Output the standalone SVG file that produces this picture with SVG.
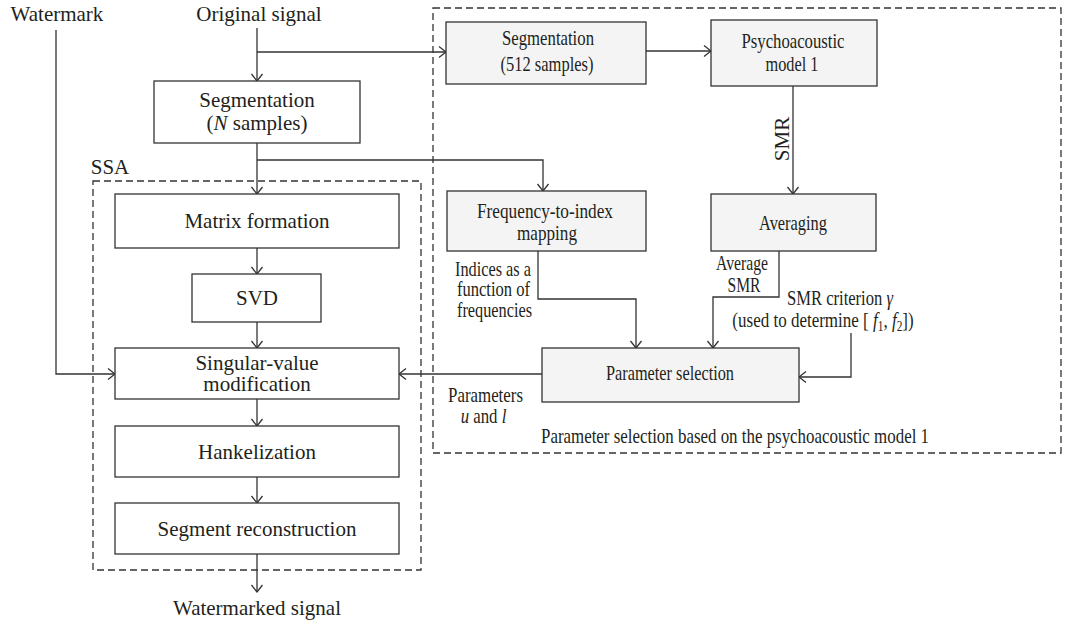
<svg xmlns="http://www.w3.org/2000/svg" width="1075" height="627" viewBox="0 0 1075 627" font-size="21">
<style>
text{fill:#231f20;text-anchor:middle}
.box{fill:#fff;stroke:#333;stroke-width:1.3}
.gbox{fill:#f4f4f4;stroke:#333;stroke-width:1.3}
.frame{fill:none;stroke:#333;stroke-width:1.3;stroke-dasharray:7 4}
.c{fill:none;stroke:#333;stroke-width:1.3}
.c.a{marker-end:url(#arr)}
</style>
<defs>
<marker id="arr" viewBox="-9 -7 10 14" markerWidth="10" markerHeight="14" refX="0" refY="0" orient="auto" markerUnits="userSpaceOnUse">
<path d="M-7,-5.5 L0,0 L-7,5.5" fill="none" stroke="#333" stroke-width="1.3"/>
</marker>
</defs>
<rect width="1075" height="627" fill="#fff"/>

<g id="psy-frame">
<rect x="433" y="8" width="628" height="445" fill="#f4f4f4" class="frame"/>
<text font-family="Liberation Serif" x="735" y="443" textLength="388" lengthAdjust="spacingAndGlyphs">Parameter selection based on the psychoacoustic model 1</text>
</g>
<g id="ssa-frame">
<rect x="93" y="181" width="328" height="389" class="frame"/>
<text font-family="Liberation Serif" x="110" y="174">SSA</text>
</g>

<g id="connectors">
<path class="c a" d="M257,28 V81"/>
<path class="c a" d="M257,52 H446"/>
<path class="c a" d="M646,51 H711"/>
<path class="c a" d="M257,143 V194"/>
<path class="c a" d="M257,160 H543 V191"/>
<path class="c a" d="M257,248 V274"/>
<path class="c a" d="M257,322 V348"/>
<path class="c a" d="M257,399 V426"/>
<path class="c a" d="M257,477 V503"/>
<path class="c a" d="M257,554 V592"/>
<path class="c a" d="M56,30 V374 H115"/>
<path class="c a" d="M793,86 V194"/>
<path class="c a" d="M538,251 V299 H636 V348"/>
<path class="c a" d="M779,251 V297 H713 V348"/>
<path class="c a" d="M851,333 V377 H799"/>
<path class="c a" d="M542,374 H399"/>
</g>

<g id="labels">
<text font-family="Liberation Serif" x="57" y="21">Watermark</text>
<text font-family="Liberation Serif" x="259" y="21">Original signal</text>
<text font-family="Liberation Serif" x="257" y="615">Watermarked signal</text>
<text font-family="Liberation Serif" x="782" y="139" transform="rotate(-90 782 139)" dy="7">SMR</text>
<text font-family="Liberation Serif" x="493" y="276" textLength="76" lengthAdjust="spacingAndGlyphs">Indices as a</text>
<text font-family="Liberation Serif" x="493.5" y="296" textLength="73" lengthAdjust="spacingAndGlyphs">function of</text>
<text font-family="Liberation Serif" x="494.5" y="317" textLength="75" lengthAdjust="spacingAndGlyphs">frequencies</text>
<text font-family="Liberation Serif" x="742" y="270" textLength="52" lengthAdjust="spacingAndGlyphs">Average</text>
<text font-family="Liberation Serif" x="744" y="292" textLength="33" lengthAdjust="spacingAndGlyphs">SMR</text>
<text font-family="Liberation Serif" x="840" y="305" transform="matrix(0.79 0 0 1 176.4 0)">SMR criterion <tspan font-style="italic">γ</tspan></text>
<text font-family="Liberation Serif" x="823" y="327" transform="matrix(0.81 0 0 1 156.37 0)">(used to determine [ <tspan font-style="italic">f</tspan><tspan font-size="14" dy="4">1</tspan><tspan dy="-4">, </tspan><tspan font-style="italic">f</tspan><tspan font-size="14" dy="4">2</tspan><tspan dy="-4">])</tspan></text>
<text font-family="Liberation Serif" x="485.5" y="402" textLength="75" lengthAdjust="spacingAndGlyphs">Parameters</text>
<text font-family="Liberation Serif" x="483.5" y="423" transform="matrix(0.8 0 0 1 96.7 0)"><tspan font-style="italic">u</tspan> and <tspan font-style="italic">l</tspan></text>
</g>

<g id="seg-n">
<rect x="154" y="81" width="206" height="62" class="box"/>
<text font-family="Liberation Serif" x="257" y="107">Segmentation</text>
<text font-family="Liberation Serif" x="257" y="130">(<tspan font-style="italic">N</tspan> samples)</text>
</g>
<g id="matrix">
<rect x="115" y="194" width="284" height="54" class="box"/>
<text font-family="Liberation Serif" x="257" y="228">Matrix formation</text>
</g>
<g id="svd">
<rect x="192" y="274" width="129" height="48" class="box"/>
<text font-family="Liberation Serif" x="257" y="305">SVD</text>
</g>
<g id="svmod">
<rect x="115" y="348" width="284" height="51" class="box"/>
<text font-family="Liberation Serif" x="257" y="370">Singular-value</text>
<text font-family="Liberation Serif" x="257" y="391">modification</text>
</g>
<g id="hank">
<rect x="115" y="426" width="284" height="51" class="box"/>
<text font-family="Liberation Serif" x="257" y="459">Hankelization</text>
</g>
<g id="segrec">
<rect x="115" y="503" width="284" height="51" class="box"/>
<text font-family="Liberation Serif" x="257" y="536">Segment reconstruction</text>
</g>

<g id="seg-512">
<rect x="446" y="22" width="200" height="62" class="gbox"/>
<text font-family="Liberation Serif" x="548" y="45" textLength="92" lengthAdjust="spacingAndGlyphs">Segmentation</text>
<text font-family="Liberation Serif" x="547" y="71" textLength="93" lengthAdjust="spacingAndGlyphs">(512 samples)</text>
</g>
<g id="psycho">
<rect x="711" y="20" width="166" height="66" class="gbox"/>
<text font-family="Liberation Serif" x="793" y="48" textLength="103" lengthAdjust="spacingAndGlyphs">Psychoacoustic</text>
<text font-family="Liberation Serif" x="792" y="71" textLength="53" lengthAdjust="spacingAndGlyphs">model 1</text>
</g>
<g id="freq">
<rect x="447" y="191" width="199" height="60" class="gbox"/>
<text font-family="Liberation Serif" x="545" y="218" textLength="136" lengthAdjust="spacingAndGlyphs">Frequency-to-index</text>
<text font-family="Liberation Serif" x="547" y="240" textLength="60" lengthAdjust="spacingAndGlyphs">mapping</text>
</g>
<g id="avg">
<rect x="711" y="194" width="165" height="57" class="gbox"/>
<text font-family="Liberation Serif" x="793" y="230" textLength="68" lengthAdjust="spacingAndGlyphs">Averaging</text>
</g>
<g id="param">
<rect x="542" y="348" width="257" height="54" class="gbox"/>
<text font-family="Liberation Serif" x="670" y="380" textLength="128" lengthAdjust="spacingAndGlyphs">Parameter selection</text>
</g>
</svg>
